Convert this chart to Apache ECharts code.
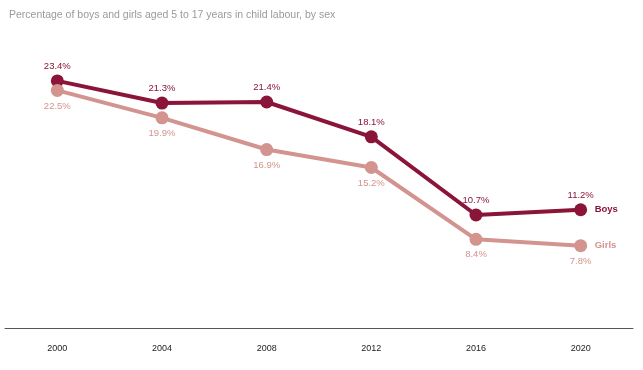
<!DOCTYPE html>
<html><head><meta charset="utf-8">
<script src="https://cdn.jsdelivr.net/npm/echarts@6/dist/echarts.min.js"></script>
<style>html,body{margin:0;padding:0;background:#fff}#c{width:643px;height:370px}</style>
</head><body><div id="c"></div>
<script>
const years = ['2000','2004','2008','2012','2016','2020'];
const boys = [23.4, 21.3, 21.4, 18.1, 10.7, 11.2];
const girls = [22.5, 19.9, 16.9, 15.2, 8.4, 7.8];
const boysColor = '#8a1538';
const girlsColor = '#d3938f';
const chart = echarts.init(document.getElementById('c'));
chart.setOption({
  animation: false,
  title: {text: 'Percentage of boys and girls aged 5 to 17 years in child labour, by sex', left: 4, top: 5,
    textStyle: {fontFamily: 'Liberation Sans', fontSize: 10.5, fontWeight: 'normal', color: '#9a9a9a'}},
  grid: {left: 5, right: 10, top: 64, bottom: 42},
  xAxis: {type: 'category', data: years, boundaryGap: true,
    axisLine: {lineStyle: {color: '#555', width: 1}}, axisTick: {show: false},
    axisLabel: {color: '#222', fontSize: 9, fontFamily: 'Liberation Sans', margin: 16}},
  yAxis: {type: 'value', min: 0, max: 25, show: false, splitLine: {show: false}},
  series: [
    {name: 'Boys', type: 'line', data: boys, color: boysColor, symbol: 'circle', symbolSize: 13,
      lineStyle: {width: 4, color: boysColor}, itemStyle: {color: boysColor},
      label: {show: true, position: 'top', distance: 3, formatter: p => p.value.toFixed(1) + '%',
        color: boysColor, fontSize: 9.5, fontFamily: 'Liberation Sans'},
      endLabel: {show: true, formatter: 'Boys', color: boysColor, fontWeight: 'bold', fontSize: 9.5, fontFamily: 'Liberation Sans', distance: 14}},
    {name: 'Girls', type: 'line', data: girls, color: girlsColor, symbol: 'circle', symbolSize: 13,
      lineStyle: {width: 4, color: girlsColor}, itemStyle: {color: girlsColor},
      label: {show: true, position: 'bottom', distance: 4, formatter: p => p.value.toFixed(1) + '%',
        color: girlsColor, fontSize: 9.5, fontFamily: 'Liberation Sans'},
      endLabel: {show: true, formatter: 'Girls', color: girlsColor, fontWeight: 'bold', fontSize: 9.5, fontFamily: 'Liberation Sans', distance: 14}}
  ]
});
</script></body></html>
